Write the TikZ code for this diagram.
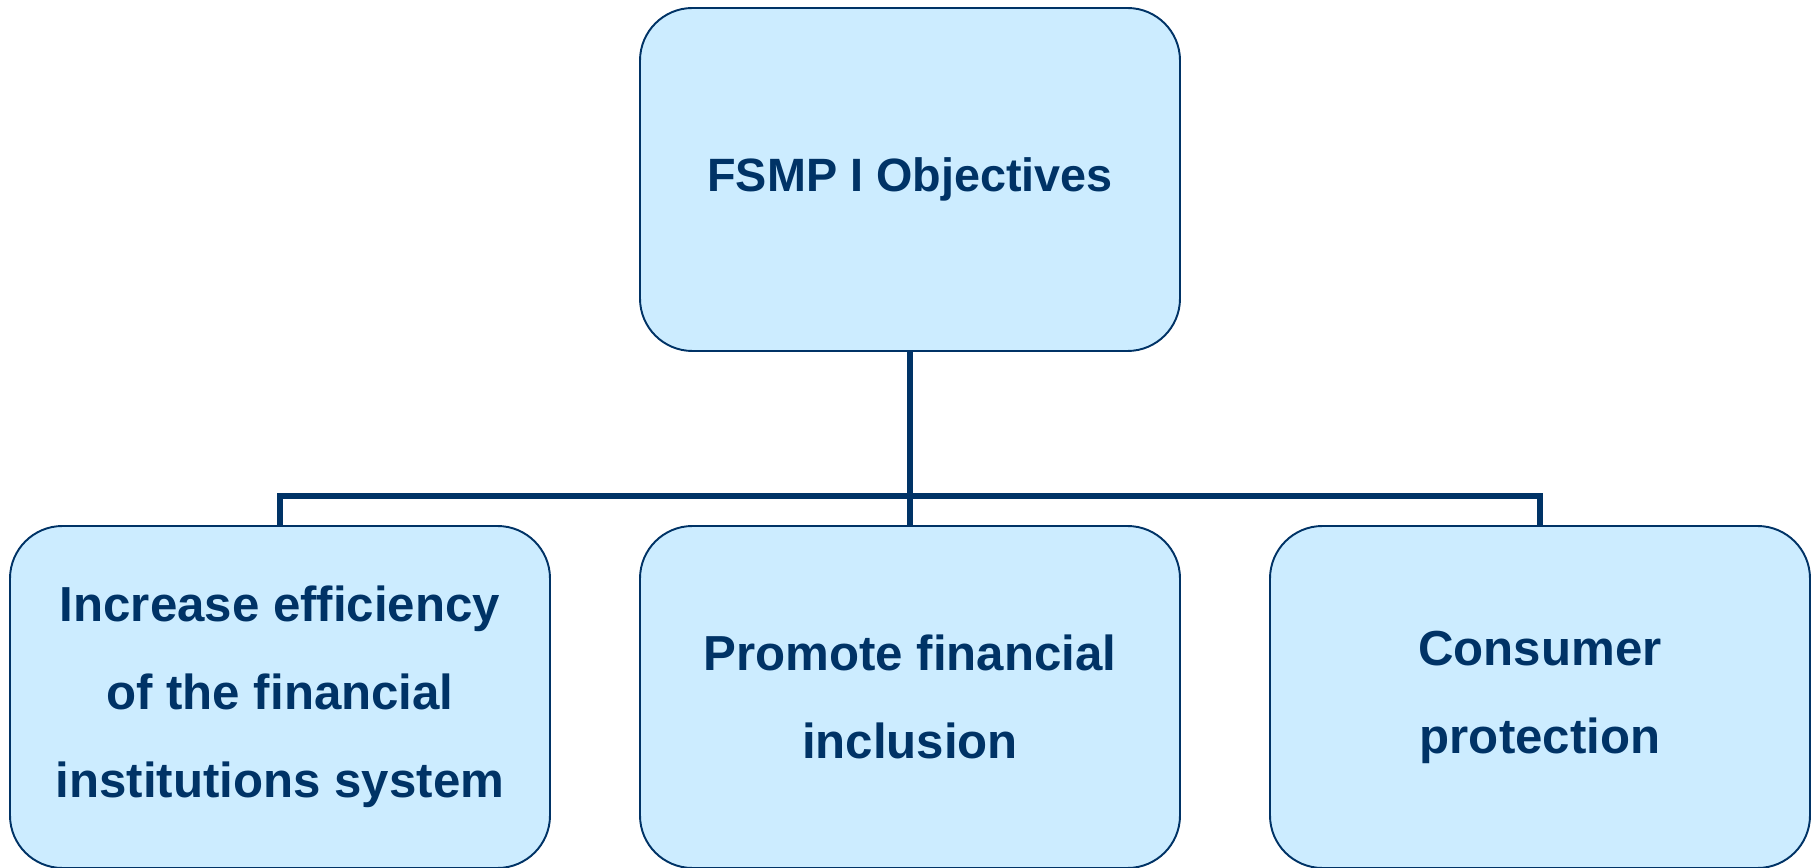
\documentclass[tikz,border=0pt]{standalone}
\usepackage{fontspec}
\setmainfont{Liberation Sans}
\usetikzlibrary{positioning}
\definecolor{navy}{HTML}{003366}
\definecolor{boxfill}{HTML}{CCECFF}

\begin{document}
\begin{tikzpicture}[
    goalbox/.style={draw=navy, line width=1.1pt, rounded corners=1.05cm, fill=boxfill,
        minimum width=10.8cm, minimum height=#1, align=center, text=navy,
        font=\fontsize{28}{50}\selectfont\bfseries},
    link/.style={draw=navy, line width=3.3pt}
]
\useasboundingbox (0,0) rectangle (36.24,-17.36);

\node[goalbox=6.86cm, font=\fontsize{26.6}{50}\selectfont\bfseries] (goal) at (18.2, -3.59) {FSMP I Objectives};
\node[goalbox=6.84cm] (eff) at (5.6, -13.94) {Increase efficiency\\of the financial\\institutions system};
\node[goalbox=6.84cm] (incl) at (18.2, -13.94) {Promote financial\\inclusion};
\node[goalbox=6.84cm] (prot) at (30.8, -13.94) {Consumer\\protection};

\coordinate (bar) at (18.2, -9.92);
\draw[link] (goal.south) -- (incl.north);
\draw[link] (eff.north) |- (bar) -| (prot.north);
\end{tikzpicture}
\end{document}
